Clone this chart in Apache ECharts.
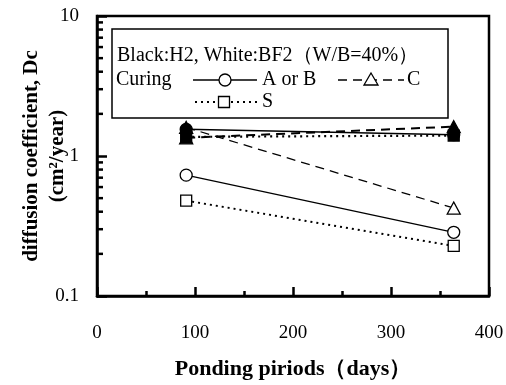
<!DOCTYPE html>
<html>
<head>
<meta charset="utf-8">
<script src="https://cdn.jsdelivr.net/npm/echarts@6/dist/echarts.min.js"></script>
<style>html,body{margin:0;padding:0;background:#fff}#c{width:506px;height:385px}</style>
</head>
<body>
<div id="c"></div>
<script>
const days = [91, 364];
const whiteAB = [0.73, 0.285];
const whiteC = [1.6, 0.425];
const whiteS = [0.48, 0.228];
const blackAB = [1.55, 1.42];
const blackC = [1.35, 1.62];
const blackS = [1.37, 1.40];
const yMinorTicks = [0.2,0.3,0.4,0.5,0.6,0.7,0.8,0.9,2,3,4,5,6,7,8,9];
const xTickLabels = ['0','100','200','300','400'];
const yTickLabels = {0.1:'0.1', 1:'1', 10:'10'};

const FONT = '"Liberation Serif", "Times New Roman", serif';
const TRI = 'path://M0,-10 L8.66,5 L-8.66,5 Z';

function pairs(v){ return days.map((d,i)=>[d, v[i]]); }

function mk(name, data, symbol, filled, ltype, lw){
  return {
    type:'line', name, data: pairs(data), symbol,
    symbolSize: symbol===TRI ? [13,12] : (symbol==='rect' ? 11 : 12),
    showSymbol:true, animation:false,
    lineStyle:{color:'#000', width:lw, type:ltype},
    itemStyle:{color: filled ? '#000' : '#fff', borderColor:'#000', borderWidth:1.3, opacity:1},
    z: filled ? 5 : 3
  };
}

const dashed = [9,6];
const dotted = [2,4];
const LF = '20px ' + FONT;

const chart = echarts.init(document.getElementById('c'), null, {renderer:'canvas'});
chart.setOption({
  backgroundColor:'#fff',
  animation:false,
  grid:{left:97, right:17, top:16, bottom:89, containLabel:false, outerBoundsMode:'none', show:true, borderColor:'#000', borderWidth:2.5, backgroundColor:'transparent'},
  xAxis:{
    type:'value', min:0, max:400, interval:100,
    axisLine:{show:true, lineStyle:{color:'#000', width:2.5}},
    axisTick:{show:true, inside:true, length:9, lineStyle:{color:'#000', width:2.5}},
    minorTick:{show:true, splitNumber:2, length:5, lineStyle:{color:'#000', width:2.5}},
    splitLine:{show:false},
    axisLabel:{color:'#000', fontFamily:FONT, fontSize:19, margin:28, formatter:(v)=>xTickLabels[Math.round(v/100)]},
    name:'Ponding piriods（days）', nameLocation:'middle', nameGap:62, nameMoveOverlap:false,
    nameTextStyle:{color:'#000', fontFamily:FONT, fontSize:22, fontWeight:'bold'}
  },
  yAxis:{
    type:'log', logBase:10, min:0.1, max:10,
    axisLine:{show:true, lineStyle:{color:'#000', width:2.5}},
    axisTick:{show:true, inside:true, length:10, lineStyle:{color:'#000', width:2.5}},
    splitLine:{show:false},
    axisLabel:{color:'#000', fontFamily:FONT, fontSize:19, margin:18, formatter:(v)=>yTickLabels[v] ?? String(v)},
    name:'diffusion coefficient, Dc\n(cm²/year)', nameLocation:'middle', nameGap:26, nameRotate:90, nameMoveOverlap:false,
    nameTextStyle:{color:'#000', fontFamily:FONT, fontSize:21, fontWeight:'bold', lineHeight:26, align:'center'}
  },
  series:[
    {
      type:'custom', name:'minorTicks', silent:true, z:6,
      data: yMinorTicks.map(v=>[0, v]),
      renderItem:(params, api)=>{
        const p = api.coord([0, api.value(1)]);
        return {type:'line', shape:{x1:p[0], y1:p[1], x2:p[0]+6, y2:p[1]}, style:{stroke:'#000', lineWidth:2.5}};
      }
    },
    mk('whiteAB', whiteAB, 'circle', false, 'solid', 1.3),
    mk('whiteC', whiteC, TRI, false, dashed, 1.3),
    mk('whiteS', whiteS, 'rect', false, dotted, 2),
    mk('blackAB', blackAB, 'circle', true, 'solid', 1.5),
    mk('blackC', blackC, TRI, true, dashed, 2),
    mk('blackS', blackS, 'rect', true, dotted, 2.2)
  ],
  graphic:[
    {type:'rect', shape:{x:112, y:29, width:336, height:89}, style:{fill:'#fff', stroke:'#000', lineWidth:1.5}, z:10},
    {type:'text', x:117, y:56, style:{text:'Black:H2, White:BF2（W/B=40%）', font:LF, fill:'#000', verticalAlign:'middle'}, z:11},
    {type:'text', x:116, y:80, style:{text:'Curing', font:LF, fill:'#000', verticalAlign:'middle'}, z:11},
    {type:'line', shape:{x1:193, y1:80, x2:257, y2:80}, style:{stroke:'#000', lineWidth:1.3}, z:11},
    {type:'circle', shape:{cx:225, cy:80, r:6}, style:{fill:'#fff', stroke:'#000', lineWidth:1.3}, z:12},
    {type:'text', x:262, y:80, style:{text:'A or B', font:LF, fill:'#000', verticalAlign:'middle'}, z:11},
    {type:'line', shape:{x1:338, y1:80, x2:404, y2:80}, style:{stroke:'#000', lineWidth:1.5, lineDash:[9,6]}, z:11},
    {type:'polygon', shape:{points:[[371,73],[378,85],[364,85]]}, style:{fill:'#fff', stroke:'#000', lineWidth:1.3}, z:12},
    {type:'text', x:407, y:80, style:{text:'C', font:LF, fill:'#000', verticalAlign:'middle'}, z:11},
    {type:'line', shape:{x1:195, y1:102, x2:258, y2:102}, style:{stroke:'#000', lineWidth:2, lineDash:[2,4]}, z:11},
    {type:'rect', shape:{x:218.5, y:96.5, width:11, height:11}, style:{fill:'#fff', stroke:'#000', lineWidth:1.3}, z:12},
    {type:'text', x:262, y:102, style:{text:'S', font:LF, fill:'#000', verticalAlign:'middle'}, z:11}
  ]
});
</script>
</body>
</html>
